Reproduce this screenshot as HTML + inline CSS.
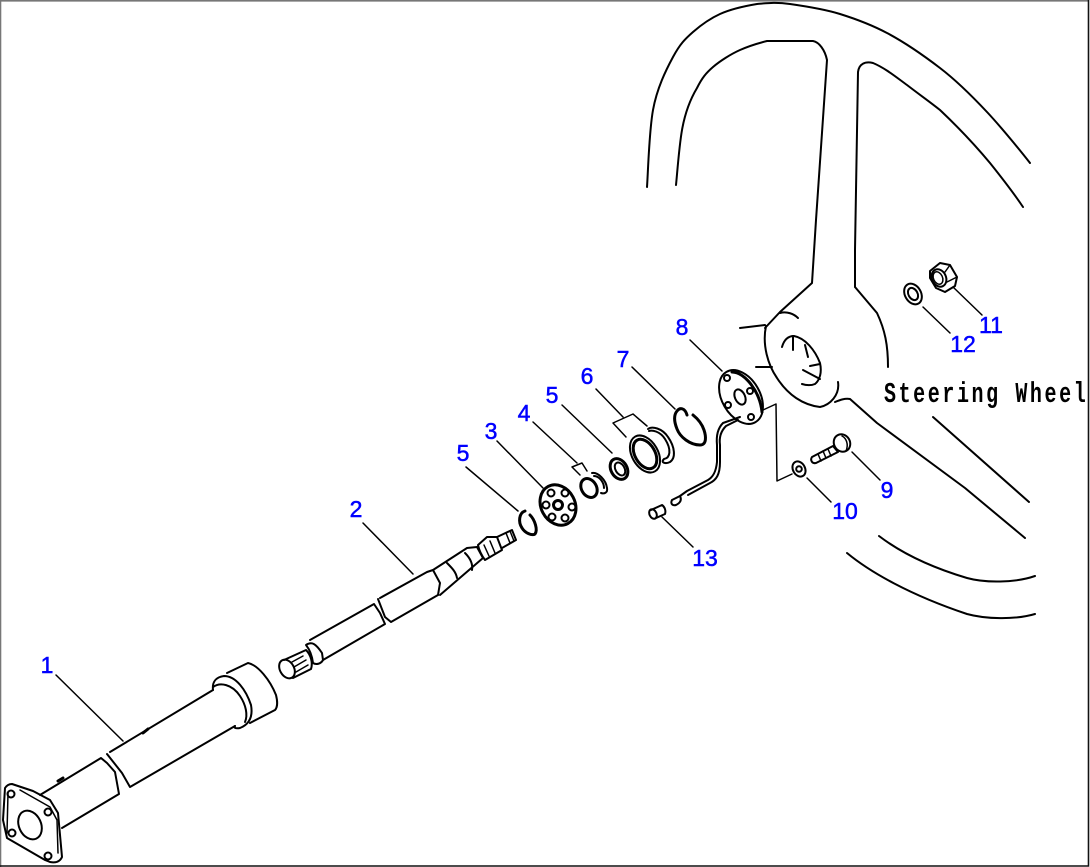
<!DOCTYPE html>
<html><head><meta charset="utf-8"><style>
html,body{margin:0;padding:0;background:#fff}
svg{display:block}
.l{fill:none;stroke:#000;stroke-width:2;stroke-linejoin:round;stroke-linecap:round}
.t{stroke-width:1.5}
.h{stroke-width:3}
.n{font-family:"Liberation Sans",sans-serif;font-size:23px;fill:#0000ff;stroke:#0000ff;stroke-width:.5;text-anchor:middle}
</style></head><body>
<svg width="1090" height="867" viewBox="0 0 1090 867" xmlns="http://www.w3.org/2000/svg">
<rect width="1090" height="867" fill="#fff"/>
<path d="M0.5 867V0.8H1088.5" fill="none" stroke="#777" stroke-width="1.6"/>
<path d="M1088.5 0V866H0" fill="none" stroke="#111" stroke-width="1.6"/>

<!-- wheel -->
<g class="l">
<path d="M647 187C648 174 649 132 653 110C657 88 666 70 673 57C680 44 685 39 693 32C701 25 709 19 720 14C731 9 745 6 757 4C768 3 776 2 790 4C804 6 824 9 840 14C856 19 870 24 887 33C904 42 923 55 940 68C957 81 972 96 987 112C1002 128 1023 154 1030 163"/>
<path d="M676 185C677 176 679 147 682 130C685 113 691 98 697 88C702 78 706 73 713 67C720 61 731 54 740 50C749 46 759 43 767 41L813 41C819 42 825 50 827 60L816 220L812 283L780 312L765 328"/>
<path d="M855 287V250L858 72C859 64 865 61 873 63C885 68 896 77 907 85C920 95 930 102 940 110C958 127 975 145 990 163C1002 178 1013 192 1023 207"/>
<path d="M855 287L877 313C885 330 888 345 888 367"/>
<path d="M740 328L765 325M756 367L772 367"/>
<path d="M766 326C762 345 768 365 777 378C788 395 803 405 820 407C830 405 840 395 838 382"/>
<path d="M780 313C787 311 794 314 798 318"/>
<path d="M782 347C784 340 788 336 794 336C805 338 815 350 820 363C822 372 820 380 815 384C810 386 805 385 802 384"/>
<path d="M793 336V350M805 345L808 357M820 364L810 366M803 370L820 379"/>
<path d="M835 402C840 400 845 398 850 399L877 423L965 488L1025 538"/>
<path d="M933 417L1029 502"/>
<path d="M879 536C900 552 930 567 967 578C985 583 1015 583 1035 576"/>
<path d="M847 553C870 572 910 595 967 614C985 619 1015 620 1035 614"/>
</g>

<!-- housing 1 -->
<g class="l">
<path d="M5 788C7 785 9 784 12 784L33 791L50 800L58 813L62 857C60 862 55 863 50 862L45 860L7 838L3 820Z"/>
<path d="M8 793L7 833M20 790L50 807L57 820L58 853" class="l t"/>
<ellipse cx="30" cy="825" rx="11" ry="15" transform="rotate(-25 30 825)"/>
<circle cx="11" cy="794" r="3.5"/><circle cx="48" cy="812" r="3.5"/><circle cx="12" cy="833" r="3.5"/><circle cx="48" cy="856" r="3.5"/>
<path d="M40 795L101 758L107 763L115 772L119 794L62 828"/>
<path d="M107 754L122 773L130 787L235 726"/>
<path d="M110 752L213 690"/>
<path d="M213 690C212 682 216 677 224 676C236 676 246 690 251 705C253 716 250 724 240 728C235 729 233 727 235 726"/>
<path d="M227 673L248 663C258 665 270 680 276 695C278 703 277 708 275 710L250 723"/>
<path d="M213 687C220 682 232 684 240 696C246 705 248 715 245 722"/>
<path d="M58 781L63 778M143 733L148 729" class="l h"/>
</g>

<!-- shaft 2 -->
<g class="l">
<ellipse cx="287" cy="669" rx="7" ry="10" transform="rotate(-30 287 669)"/>
<path d="M284 660L306 650C311 655 313 663 311 669L293 678"/>
<path d="M292 662L303 656M294 667L306 660M296 672L308 665" class="l t"/>
<path d="M306 645C312 641 316 644 322 653L323 660C321 664 316 665 313 663C312 655 310 650 306 645Z"/>
<path d="M310 640L374 604L380 613L385 624L323 660"/>
<path d="M378 599L385 617L391 622L438 595"/>
<path d="M380 598L427 572L433 570L440 583L438 595"/>
<path d="M433 570L467 548L477 547L483 558L440 595"/>
<path d="M447 563C452 568 456 572 457 578M465 553C470 558 473 564 472 570"/>
<path d="M478 545L487 537L497 537L502 550L485 560C482 556 479 550 478 545Z"/>
<path d="M484 545L489 556M490 541L495 553" class="l t"/>
<path d="M497 537L512 530L516 540L502 548"/>
<path d="M506 533L510 543M510 531L514 541" class="l t"/>
</g>

<!-- small parts -->
<g class="l">
<path d="M525 511C519 513 518 522 522 528C525 533 532 536 535 534C538 530 535 520 530 515" class="l h"/>
<ellipse cx="558" cy="505" rx="17" ry="21" transform="rotate(-28 558 505)" class="l h"/>
<circle cx="558" cy="505" r="4.5" class="l h"/>
<circle cx="551" cy="493" r="3.5"/><circle cx="565" cy="493" r="3.5"/><circle cx="572" cy="507" r="3.5"/><circle cx="565" cy="518" r="3.5"/><circle cx="552" cy="517" r="3.5"/><circle cx="546" cy="505" r="3.5"/>
<ellipse cx="589" cy="488" rx="7.5" ry="10" transform="rotate(-30 589 488)" class="l h"/>
<path d="M592 473C598 472 606 480 607 488C608 493 604 494 601 493"/>
<path d="M594 476C599 476 604 482 604 488"/>
<ellipse cx="619" cy="469" rx="8" ry="11" transform="rotate(-30 619 469)" class="l h"/>
<ellipse cx="620" cy="469" rx="4.5" ry="7" transform="rotate(-30 620 469)"/>
<ellipse cx="645" cy="454" rx="13" ry="20" transform="rotate(-30 645 454)"/>
<ellipse cx="645" cy="454" rx="10" ry="16" transform="rotate(-30 645 454)" class="l h"/>
<path d="M648 429C652 426 662 428 668 437C675 447 676 458 670 462C666 464 660 463 664 459C670 458 672 450 665 439C660 431 652 430 649 431"/>
<path d="M687 415C685 408 680 407 677 411C673 416 675 424 677 429C680 437 690 445 700 445C707 445 706 436 704 430C702 424 698 419 693 415" class="l h"/>
<!-- 8 -->
<ellipse cx="741" cy="397" rx="19" ry="29" transform="rotate(-30 741 397)"/>
<path d="M732 372C745 372 760 392 762 412" class="l h"/>
<ellipse cx="740" cy="397" rx="5" ry="8" transform="rotate(-25 740 397)"/>
<circle cx="727" cy="378" r="3"/><circle cx="750" cy="391" r="3"/><circle cx="728" cy="405" r="3"/><circle cx="751" cy="417" r="3"/>
<!-- wire -->
<path d="M740 417L723 423C718 428 716 435 717 445L717 462C716 472 713 477 708 480L687 491L680 496"/>
<path d="M738 420L726 426C721 431 719 438 720 445L720 462C720 475 716 480 710 483L688 495"/>
<path d="M672 500L680 496C682 500 680 503 676 505C673 506 670 504 672 500Z"/>
<!-- pin 13 -->
<ellipse cx="653" cy="514" rx="3.5" ry="5" transform="rotate(-25 653 514)"/>
<path d="M651 510L662 505C665 507 666 511 665 514L656 518"/>
<!-- bolt 9 -->
<path d="M812 457L833 446L838 452L816 463C812 464 810 460 812 457Z"/>
<path d="M818 454L821 461M823 451L826 458M828 449L831 456" class="l t"/>
<ellipse cx="842" cy="443" rx="8" ry="9" transform="rotate(-30 842 443)"/>
<path d="M842 436C846 438 849 444 846 451" class="l t"/>
<!-- washer 10 -->
<ellipse cx="799" cy="469" rx="6" ry="8" transform="rotate(-30 799 469)"/>
<circle cx="799" cy="469" r="2.8"/>
<!-- washer 12 -->
<ellipse cx="913" cy="294" rx="8" ry="11" transform="rotate(-30 913 294)"/>
<ellipse cx="913" cy="294" rx="4.5" ry="6.5" transform="rotate(-30 913 294)"/>
<!-- nut 11 -->
<path d="M930 271L940 263L950 265L957 277L955 286L945 292L936 288L930 278Z"/>
<ellipse cx="939" cy="278" rx="7" ry="9" transform="rotate(-25 939 278)"/>
<ellipse cx="938" cy="278" rx="4.5" ry="6.5" transform="rotate(-25 938 278)" class="l t"/>
<path d="M950 265L945 272M957 277L947 282" class="l t"/>
</g>

<!-- leaders -->
<g class="l t">
<path d="M56 675L123 741"/>
<path d="M363 523L413 574"/>
<path d="M497 441L543 488"/>
<path d="M466 467L518 511"/>
<path d="M533 422L577 463M572 467L582 463L587 471M572 467L580 475"/>
<path d="M562 405L612 453"/>
<path d="M596 389L623 417M613 423L633 414L647 426M613 423L626 437"/>
<path d="M632 367L675 409"/>
<path d="M690 340L722 371"/>
<path d="M763 410L776 404L777 481L792 474"/>
<path d="M662 517L693 547"/>
<path d="M852 452L880 480"/>
<path d="M807 478L831 502"/>
<path d="M923 307L950 333"/>
<path d="M953 287L982 315"/>
</g>

<!-- labels -->
<g class="n">
<text x="47" y="673">1</text>
<text x="356" y="517">2</text>
<text x="491" y="439">3</text>
<text x="524" y="421">4</text>
<text x="552" y="403">5</text>
<text x="463" y="461">5</text>
<text x="587" y="384">6</text>
<text x="623" y="367">7</text>
<text x="682" y="335">8</text>
<text x="887" y="498">9</text>
<text x="845" y="519">10</text>
<text x="991" y="333">11</text>
<text x="963" y="352">12</text>
<text x="705" y="566">13</text>
</g>
<text transform="translate(884 402) scale(1 1.45)" font-family="'Liberation Mono',monospace" font-weight="bold" font-size="20" letter-spacing="2.6" fill="#000">Steering Wheel</text>
</svg>
</body></html>
